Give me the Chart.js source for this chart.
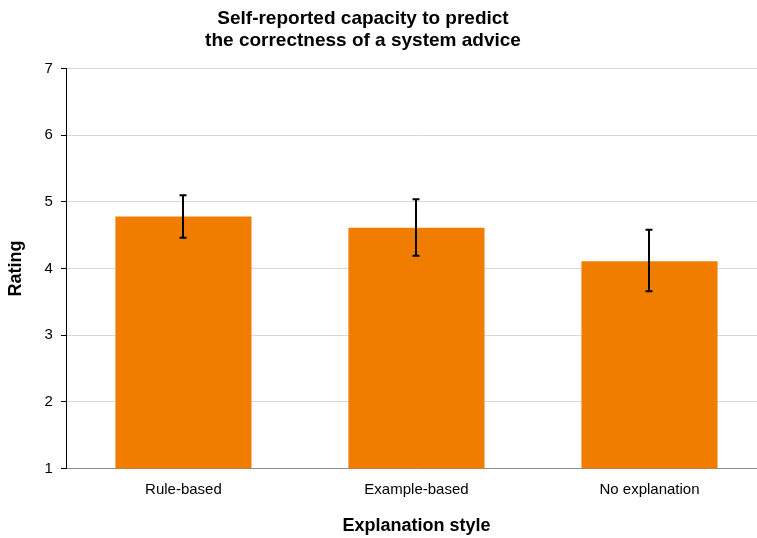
<!DOCTYPE html>
<html>
<head>
<meta charset="utf-8">
<script src="https://cdn.jsdelivr.net/npm/chart.js@4/dist/chart.umd.min.js"></script>
<style>
html,body{margin:0;padding:0;background:#fff;overflow:hidden;}
#wrap{width:757px;height:538px;overflow:hidden;}
</style>
</head>
<body>
<div id="wrap"><canvas id="c" width="766" height="538"></canvas></div>
<script>
const categories = ["Rule-based", "Example-based", "No explanation"];
const ratings = [4.78, 4.61, 4.11];
const errLow = [4.46, 4.19, 3.66];
const errHigh = [5.10, 5.04, 4.58];
const yTicks = [1, 2, 3, 4, 5, 6, 7];

const FONT = "'Liberation Sans', Arial, sans-serif";

const errorBars = {
  id: 'errorBars',
  afterDatasetsDraw(chart) {
    const ctx = chart.ctx;
    const meta = chart.getDatasetMeta(0);
    const y = chart.scales.y;
    ctx.save();
    ctx.strokeStyle = '#000';
    ctx.lineWidth = 2;
    meta.data.forEach((bar, i) => {
      const x = Math.round(bar.x);
      const yh = y.getPixelForValue(errHigh[i]);
      const yl = y.getPixelForValue(errLow[i]);
      ctx.beginPath();
      ctx.moveTo(x, yh); ctx.lineTo(x, yl);
      ctx.moveTo(x - 3.5, yh); ctx.lineTo(x + 3.5, yh);
      ctx.moveTo(x - 3.5, yl); ctx.lineTo(x + 3.5, yl);
      ctx.stroke();
    });
    ctx.restore();
  }
};

const shiftTitle = {
  id: 'shiftTitle',
  afterLayout(chart) {
    if (chart.titleBlock) {
      chart.titleBlock.left = 0;
      chart.titleBlock.right = 726;
    }
  }
};

new Chart(document.getElementById('c'), {
  type: 'bar',
  data: {
    labels: categories,
    datasets: [{
      data: ratings,
      backgroundColor: 'rgb(240,124,0)',
      borderWidth: 0,
      barPercentage: 0.584,
      categoryPercentage: 1.0
    }]
  },
  options: {
    responsive: false,
    animation: false,
    layout: { padding: { top: 7, left: 5, right: 0, bottom: 0 } },
    plugins: {
      legend: { display: false },
      tooltip: { enabled: false },
      title: {
        display: true,
        text: ['Self-reported capacity to predict', 'the correctness of a system advice'],
        color: '#000',
        font: { family: FONT, size: 19, weight: 'bold', lineHeight: 1.2 },
        padding: { top: 0, bottom: 16 }
      }
    },
    scales: {
      x: {
        grid: { display: false, drawTicks: false },
        border: { display: true, color: '#8c8c8c', width: 1 },
        ticks: { color: '#000', font: { family: FONT, size: 15 }, padding: 12 },
        title: {
          display: true, text: 'Explanation style', color: '#000',
          font: { family: FONT, size: 18, weight: 'bold' },
          padding: { top: 5, bottom: 1 }
        }
      },
      y: {
        min: 1, max: 7,
        afterBuildTicks(scale) { scale.ticks = yTicks.map(v => ({ value: v })); },
        grid: { color: '#d9d9d9', tickColor: '#000', tickLength: 6, lineWidth: 1 },
        border: { display: true, color: '#000', width: 1 },
        ticks: { color: '#000', font: { family: FONT, size: 15 }, padding: 8 },
        title: {
          display: true, text: 'Rating', color: '#000',
          font: { family: FONT, size: 18, weight: 'bold' },
          padding: { top: 0, bottom: 10 }
        }
      }
    }
  },
  plugins: [errorBars, shiftTitle]
});
</script>
</body>
</html>
